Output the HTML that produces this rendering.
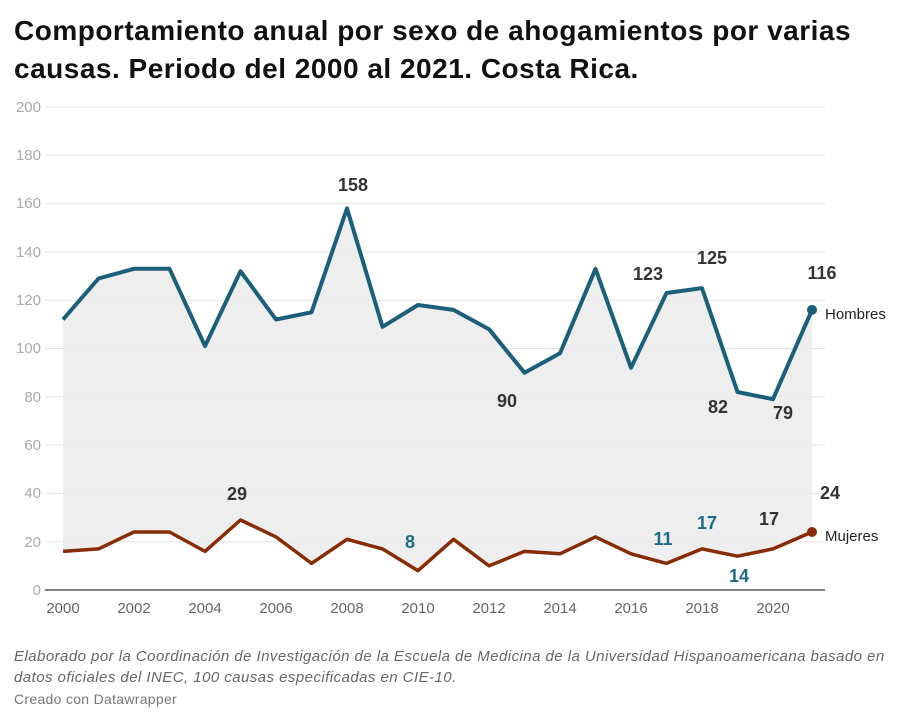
<!DOCTYPE html>
<html><head><meta charset="utf-8"><style>
body{margin:0;background:#fff;width:921px;height:724px;overflow:hidden;font-family:"Liberation Sans",sans-serif}
.t{position:absolute;left:14px;top:12px;font-size:28px;font-weight:bold;color:#111;line-height:38px;letter-spacing:0.5px}
.n{position:absolute;left:14px;top:646px;font-size:15px;font-style:italic;color:#666;line-height:21px;letter-spacing:0.45px}
.c{position:absolute;left:14px;top:691px;font-size:14px;color:#777;letter-spacing:0.3px}
</style></head><body>
<div class="t">Comportamiento anual por sexo de ahogamientos por varias<br>causas. Periodo del 2000 al 2021. Costa Rica.</div>
<svg width="921" height="724" style="position:absolute;left:0;top:0">
<g stroke="#e3e3e3" stroke-width="1">
<line x1="45" x2="825" y1="541.7" y2="541.7"/><line x1="45" x2="825" y1="493.4" y2="493.4"/><line x1="45" x2="825" y1="445.1" y2="445.1"/><line x1="45" x2="825" y1="396.8" y2="396.8"/><line x1="45" x2="825" y1="348.5" y2="348.5"/><line x1="45" x2="825" y1="300.2" y2="300.2"/><line x1="45" x2="825" y1="251.9" y2="251.9"/><line x1="45" x2="825" y1="203.6" y2="203.6"/><line x1="45" x2="825" y1="155.3" y2="155.3"/><line x1="45" x2="825" y1="107" y2="107"/>
</g>
<g font-size="15" fill="#aaa" text-anchor="end">
<text x="41" y="595">0</text><text x="41" y="547">20</text><text x="41" y="498">40</text><text x="41" y="450">60</text><text x="41" y="402">80</text><text x="41" y="353">100</text><text x="41" y="305">120</text><text x="41" y="257">140</text><text x="41" y="208">160</text><text x="41" y="160">180</text><text x="41" y="112">200</text>
</g>
<polygon fill="#ebebeb" opacity="0.85" points="63,319.5 98.5,278.5 134,268.8 169.5,268.8 205,346.1 240.5,271.2 276,319.5 311.5,312.3 347,208.4 382.5,326.8 418,305 453.5,309.9 489,329.2 524.5,372.7 560,353.3 595.5,268.8 631,367.8 666.5,293 702,288.1 737.5,392 773,399.2 812,309.9 812,532 773,548.9 737.5,556.2 702,548.9 666.5,563.4 631,553.8 595.5,536.9 560,553.8 524.5,551.4 489,565.9 453.5,539.3 418,570.7 382.5,548.9 347,539.3 311.5,563.4 276,536.9 240.5,520 205,551.4 169.5,532 134,532 98.5,548.9 63,551.4"/>
<line x1="45" x2="825" y1="590" y2="590" stroke="#333" stroke-width="1.3"/>
<polyline fill="none" stroke="#1b5f7a" stroke-width="4" stroke-linejoin="round" points="63,319.5 98.5,278.5 134,268.8 169.5,268.8 205,346.1 240.5,271.2 276,319.5 311.5,312.3 347,208.4 382.5,326.8 418,305 453.5,309.9 489,329.2 524.5,372.7 560,353.3 595.5,268.8 631,367.8 666.5,293 702,288.1 737.5,392 773,399.2 812,309.9"/>
<polyline fill="none" stroke="#862c06" stroke-width="3.5" stroke-linejoin="round" points="63,551.4 98.5,548.9 134,532 169.5,532 205,551.4 240.5,520 276,536.9 311.5,563.4 347,539.3 382.5,548.9 418,570.7 453.5,539.3 489,565.9 524.5,551.4 560,553.8 595.5,536.9 631,553.8 666.5,563.4 702,548.9 737.5,556.2 773,548.9 812,532"/>
<circle cx="812" cy="309.9" r="5" fill="#1b5f7a"/><circle cx="812" cy="532" r="5" fill="#862c06"/>
<g font-size="15" fill="#222"><text x="825" y="319">Hombres</text><text x="825" y="541">Mujeres</text></g>
<g font-size="18" font-weight="bold" fill="#333" text-anchor="middle">
<text x="353" y="191">158</text><text x="648" y="280">123</text><text x="712" y="264">125</text><text x="822" y="279">116</text><text x="507" y="407">90</text><text x="718" y="413">82</text><text x="783" y="419">79</text><text x="237" y="500">29</text><text x="830" y="499">24</text><text x="769" y="525">17</text>
</g>
<g font-size="18" font-weight="bold" fill="#1b6b85" text-anchor="middle">
<text x="410" y="548">8</text><text x="663" y="545">11</text><text x="707" y="529">17</text><text x="739" y="582">14</text>
</g>
<g font-size="15" fill="#666" text-anchor="middle">
<text x="63" y="613">2000</text><text x="134" y="613">2002</text><text x="205" y="613">2004</text><text x="276" y="613">2006</text><text x="347" y="613">2008</text><text x="418" y="613">2010</text><text x="489" y="613">2012</text><text x="560" y="613">2014</text><text x="631" y="613">2016</text><text x="702" y="613">2018</text><text x="773" y="613">2020</text>
</g>
</svg>
<div class="n">Elaborado por la Coordinación de Investigación de la Escuela de Medicina de la Universidad Hispanoamericana basado en<br>datos oficiales del INEC, 100 causas especificadas en CIE-10.</div>
<div class="c">Creado con Datawrapper</div>
</body></html>
